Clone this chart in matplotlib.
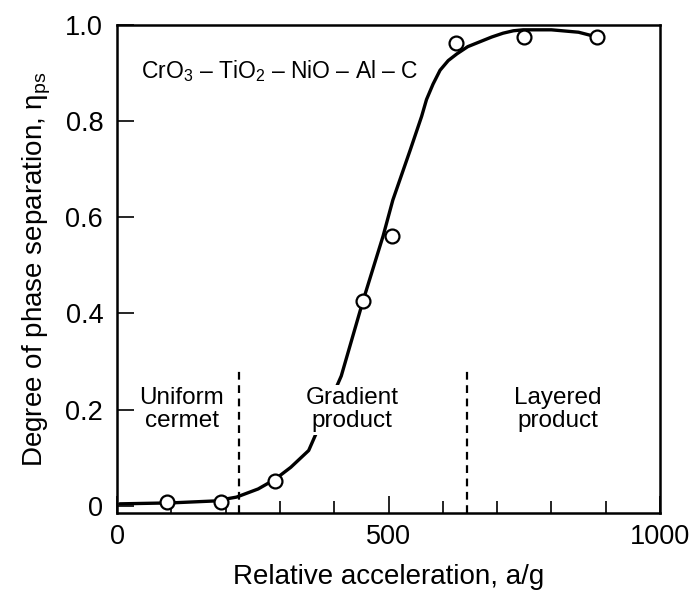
import numpy as np
import matplotlib
matplotlib.use("Agg")
import matplotlib.pyplot as plt
from matplotlib.ticker import MultipleLocator

plt.rcParams['font.family'] = ['Liberation Sans', 'DejaVu Sans']
plt.rcParams['mathtext.fontset'] = 'custom'
plt.rcParams['mathtext.rm'] = 'Liberation Sans'
plt.rcParams['mathtext.it'] = 'Liberation Sans'

# measured points
acc = [92, 191, 291, 453, 506, 624, 750, 884]
eta = [0.008, 0.008, 0.052, 0.426, 0.561, 0.962, 0.975, 0.975]

# fitted curve
curve_x = [5, 100, 180, 220, 260, 291, 320, 353, 413, 453, 490, 508, 540, 561,
           570, 582, 595, 610, 626, 646, 668, 690, 711, 730, 748, 800, 850, 884]
curve_y = [0.004, 0.006, 0.01, 0.018, 0.035, 0.055, 0.08, 0.115, 0.27, 0.426,
           0.561, 0.636, 0.74, 0.81, 0.845, 0.877, 0.906, 0.926, 0.94, 0.955,
           0.965, 0.975, 0.983, 0.988, 0.99, 0.99, 0.985, 0.975]

# region boundaries
bounds = [225, 645]
bound_top = 0.28

regions = ["Uniform\ncermet", "Gradient\nproduct", "Layered\nproduct"]
region_x = [119, 433, 812]
region_y = 0.2

fig = plt.figure(figsize=(6.9, 5.94), dpi=100)
ax = fig.add_axes([0.1696, 0.1364, 0.7869, 0.8215])

ax.plot(curve_x, curve_y, color='black', lw=2.4, zorder=2,
        solid_capstyle='round', solid_joinstyle='round')
for b in bounds:
    ax.plot([b, b], [-0.015, bound_top], color='black', lw=1.6,
            linestyle=(0, (3.5, 2.5)), zorder=1)
ax.plot(acc, eta, 'o', ms=10, mfc='white', mec='black', mew=1.6, zorder=4)

for lab, x in zip(regions, region_x):
    ax.text(x, region_y, lab, ha='center', va='center', fontsize=17.5,
            linespacing=1.05, zorder=3,
            bbox=dict(facecolor='white', edgecolor='none', pad=2))

ax.text(44, 0.905, r'CrO$_3$ – TiO$_2$ – NiO – Al – C', fontsize=16.5,
        ha='left', va='center')

ax.set_xlim(0, 1000)
ax.set_ylim(-0.015, 1.0)
ax.set_xticks([0, 500, 1000])
ax.set_xticklabels(['0', '500', '1000'])
ax.xaxis.set_minor_locator(MultipleLocator(100))
ax.set_yticks([0, 0.2, 0.4, 0.6, 0.8, 1.0])
ax.set_yticklabels(['0', '0.2', '0.4', '0.6', '0.8', '1.0'])
ax.tick_params(axis='both', which='major', direction='in', length=12,
               width=1.2, labelsize=19.5, pad=8)
ax.tick_params(axis='x', which='minor', direction='in', length=9, width=1.2)
ax.tick_params(axis='y', which='major', pad=10)
for s in ax.spines.values():
    s.set_linewidth(1.8)

ax.set_xlabel('Relative acceleration, a/g', fontsize=20, labelpad=10)
ax.set_ylabel(r'Degree of phase separation, η$_{\rm ps}$', fontsize=20, labelpad=9)

fig.savefig('out.png', dpi=100)
